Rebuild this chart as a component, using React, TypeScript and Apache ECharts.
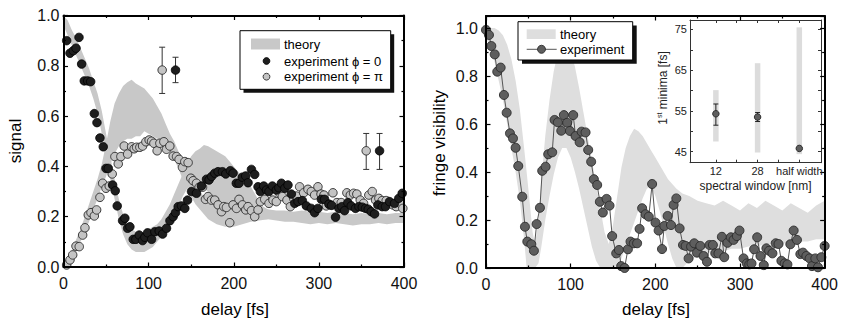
import React, { useEffect, useRef } from 'react';
import * as echarts from 'echarts';

const FONT = '"Liberation Sans", Arial, Helvetica, sans-serif';

// ---------- Left panel: signal vs delay ----------
const signalPhi0: number[][] = [
  [3.7,0.90],[7.6,0.85],[11.5,0.86],[14.7,0.87],[18.2,0.913],[21.3,0.807],[24.4,0.74],[28.4,0.74],[31.9,0.737],[36.2,0.61],
  [39.3,0.574],[42.8,0.513],[46.7,0.478],[49.9,0.392],[52.6,0.392],[57.7,0.326],[60.8,0.303],[63.1,0.243],[69.4,0.184],[72.1,0.194],
  [75.3,0.154],[78,0.16],[81.9,0.11],[85,0.11],[88.9,0.127],[92.9,0.105],[95.6,0.118],[98.8,0.136],[103.5,0.11],[107.3,0.14],
  [112.4,0.143],[116.4,0.131],[121,0.154],[125,0.184],[128.8,0.2],[131.6,0.216],[134.7,0.24],[138.6,0.243],[142.5,0.233],[145.7,0.266],
  [150.4,0.3],[156.2,0.293],[162,0.322],[168,0.349],[171,0.346],[174,0.36],[177.7,0.373],[181.6,0.379],[186.7,0.379],[190.6,0.37],
  [196,0.383],[199.2,0.373],[203,0.333],[206.2,0.333],[210,0.357],[214,0.362],[216.8,0.335],[220.8,0.388],[224.6,0.368],[228.5,0.319],
  [231.3,0.3],[235.2,0.322],[238.4,0.306],[241.4,0.3],[245.4,0.322],[250,0.306],[253,0.315],[256,0.333],[260,0.313],[263.7,0.326],
  [267.7,0.29],[271.6,0.253],[275.5,0.26],[280.6,0.264],[285.3,0.243],[291.1,0.233],[295,0.216],[298.9,0.233],[302.9,0.269],[306.7,0.269],
  [311.8,0.25],[315,0.245],[319.6,0.198],[323.5,0.233],[327,0.24],[330.2,0.224],[334,0.256],[338,0.243],[343,0.233],[347,0.24],
  [351,0.238],[354.8,0.233],[358,0.23],[361.5,0.22],[365.4,0.211],[369.3,0.247],[374.4,0.24],[378.3,0.24],[383,0.26],[388.9,0.253],
  [393.9,0.273],[397.9,0.293]
];
const signalPhiPi: number[][] = [
  [3.7,0.008],[7.6,0.028],[10.8,0.048],[14.7,0.083],[18.5,0.081],[22.5,0.127],[25.2,0.156],[29.1,0.207],[32.3,0.216],[36.2,0.203],
  [38.9,0.227],[42.8,0.277],[46,0.333],[49.9,0.313],[53.7,0.322],[57.2,0.37],[60.4,0.439],[64.3,0.41],[67.4,0.439],[71.3,0.481],
  [75.3,0.449],[80,0.478],[83,0.47],[85.9,0.476],[89.7,0.476],[92.9,0.481],[96.8,0.498],[100.6,0.505],[103.5,0.5],[106.2,0.492],
  [110,0.462],[113.2,0.492],[117.9,0.498],[121,0.468],[124.9,0.481],[128.8,0.441],[132.8,0.439],[135.8,0.428],[139.8,0.396],[142.5,0.419],
  [146.4,0.415],[149.6,0.353],[152.3,0.343],[156.2,0.333],[159.3,0.317],[163.3,0.317],[166.8,0.269],[169.8,0.28],[173.8,0.266],[177.7,0.266],
  [181.6,0.247],[185.6,0.22],[188.3,0.24],[191.4,0.237],[195.3,0.176],[199.2,0.247],[203.2,0.233],[206.2,0.269],[210.2,0.247],[214.1,0.227],
  [216.8,0.24],[220.8,0.224],[224.6,0.2],[228.5,0.227],[231.3,0.26],[236.4,0.269],[241.4,0.253],[246.1,0.266],[250,0.26],[254,0.293],
  [257.1,0.28],[262.5,0.266],[266.5,0.24],[270.4,0.273],[273.6,0.282],[277.4,0.319],[282.1,0.295],[287.2,0.309],[291.1,0.3],[295,0.286],
  [298.9,0.319],[302.5,0.29],[306,0.286],[308.7,0.243],[312.6,0.247],[316.5,0.295],[321.2,0.256],[326.3,0.256],[332.9,0.295],[336.9,0.286],
  [340.8,0.293],[344.6,0.29],[348.6,0.266],[352.5,0.253],[358.7,0.286],[362.7,0.3],[366.6,0.266],[370.5,0.273],[374.4,0.264],[379.1,0.264],
  [383,0.253],[386.9,0.247],[390.8,0.24],[395.5,0.253],[398.6,0.233]
];
// representative error bars: [delay, value, low, high]
const errPhi0: number[][] = [[131.6,0.783,0.733,0.834],[371.3,0.462,0.388,0.531]];
const errPhiPi: number[][] = [[115.9,0.783,0.69,0.874],[355.6,0.462,0.388,0.531]];
// theory bands: [delay, low, high]
const theoryPhi0: number[][] = [
  [0,0.96,1.0],[5,0.92,0.98],[10,0.88,0.94],[15,0.84,0.91],[20,0.8,0.87],[25,0.76,0.83],[30,0.72,0.79],[35,0.67,0.74],[40,0.61,0.69],
  [45,0.53,0.62],[50,0.43,0.53],[55,0.35,0.44],[60,0.27,0.35],[65,0.19,0.27],[70,0.13,0.21],[75,0.09,0.17],[80,0.07,0.15],[85,0.06,0.14],
  [90,0.06,0.14],[95,0.06,0.14],[100,0.07,0.15],[105,0.08,0.16],[110,0.1,0.17],[115,0.12,0.19],[120,0.14,0.22],[125,0.17,0.25],
  [130,0.2,0.29],[135,0.24,0.33],[140,0.28,0.37],[145,0.31,0.41],[150,0.32,0.44],[155,0.32,0.46],[160,0.32,0.47],[165,0.31,0.485],
  [170,0.3,0.48],[175,0.28,0.47],[180,0.26,0.46],[185,0.24,0.45],[190,0.22,0.44],[195,0.21,0.42],[200,0.2,0.4],[205,0.2,0.38],
  [210,0.19,0.36],[215,0.19,0.34],[220,0.19,0.32],[225,0.19,0.29],[230,0.19,0.26],[235,0.19,0.24],[240,0.19,0.23]
];
const theoryPhiPi: number[][] = [
  [0,0,0.015],[5,0.01,0.04],[10,0.03,0.07],[15,0.06,0.11],[20,0.1,0.15],[25,0.14,0.2],[30,0.18,0.25],[35,0.23,0.3],[40,0.27,0.35],
  [45,0.32,0.41],[50,0.36,0.49],[55,0.41,0.58],[60,0.45,0.65],[65,0.48,0.69],[70,0.5,0.72],[75,0.51,0.735],[80,0.51,0.745],
  [85,0.52,0.73],[90,0.52,0.72],[95,0.54,0.71],[100,0.53,0.69],[105,0.52,0.67],[110,0.51,0.64],[115,0.5,0.61],[120,0.48,0.57],
  [125,0.46,0.53],[130,0.43,0.5],[135,0.39,0.46],[140,0.35,0.42],[145,0.31,0.38],[150,0.28,0.35],[155,0.25,0.32],[160,0.23,0.3],
  [165,0.21,0.28],[170,0.19,0.27],[180,0.17,0.25],[190,0.16,0.24],[200,0.16,0.24],[210,0.17,0.24],[220,0.18,0.235],[230,0.185,0.235],
  [240,0.19,0.23],[250,0.185,0.225],[260,0.18,0.225],[270,0.18,0.22],[280,0.175,0.225],[290,0.17,0.22],[300,0.175,0.22],
  [310,0.17,0.215],[320,0.175,0.22],[330,0.17,0.215],[340,0.165,0.21],[350,0.17,0.215],[360,0.17,0.21],[370,0.175,0.215],
  [380,0.17,0.21],[390,0.175,0.215],[400,0.175,0.215]
];

// ---------- Right panel: fringe visibility vs delay ----------
const visibilityExp: number[][] = [
  [0,0.992],[3.5,0.971],[6.3,0.925],[10.3,0.89],[13.3,0.818],[17.3,0.835],[21.2,0.721],[24.4,0.647],[28.3,0.561],[31.9,0.54],
  [35,0.501],[38.1,0.425],[42.8,0.297],[46,0.172],[48.8,0.11],[53.5,0.099],[56.6,0.072],[59.8,0.183],[63.7,0.251],[66.4,0.405],
  [70.4,0.422],[73.5,0.474],[78.2,0.482],[81,0.617],[84.9,0.607],[88.9,0.572],[92,0.637],[95.9,0.605],[99.1,0.571],[103,0.637],
  [105.8,0.55],[110.6,0.524],[112.9,0.568],[117.6,0.565],[120.7,0.492],[124.2,0.443],[127.4,0.37],[131.3,0.346],[134.5,0.276],[138,0.231],
  [142.4,0.288],[145.9,0.26],[149,0.133],[153.8,0.061],[157,0.075],[159.7,0.008],[163.7,0.0],[167.6,0.078],[170.7,0.11],[174.6,0.103],
  [178.5,0.103],[181.4,0.163],[184.4,0.249],[188.4,0.224],[192.3,0.214],[196.2,0.35],[200.2,0.189],[203.9,0.156],[207.9,0.079],[210.6,0.175],
  [214.5,0.217],[218.5,0.179],[221.6,0.263],[224.8,0.29],[228.7,0.165],[232.7,0.096],[235.8,0.092],[239.3,0.04],[242.2,0.089],[246,0.103],
  [249.2,0.064],[253.1,0.092],[257,0.05],[261,0.026],[264,0.096],[268,0.096],[270.8,0.061],[274.6,0.061],[278.6,0.13],[281.4,0.045],
  [285.2,0.105],[289.2,0.128],[292.4,0.117],[296.3,0.133],[299.4,0.156],[304.2,0.04],[308.1,0.019],[311,0.015],[313.6,0.019],[316.7,0.078],
  [320.3,0.128],[324.2,0.05],[328.1,0.012],[331.2,0.082],[334.4,0.072],[338.3,0.061],[342.2,0.103],[345.5,0.1],[348.9,0.03],[352.8,0.019],
  [356,0.015],[359.5,0.099],[363.4,0.156],[367.3,0.117],[371.3,0.058],[374.4,0.064],[378.4,0.05],[382.3,0.04],[385,0.008],[389,0.04],
  [392.1,0.003],[396.1,0.045],[400,0.092]
];
const visibilityTheory: number[][] = [
  [0,0.96,1.0],[5,0.92,1.0],[10,0.86,1.0],[15,0.78,0.99],[20,0.7,0.97],[25,0.6,0.93],[30,0.5,0.87],[35,0.4,0.78],[40,0.28,0.66],
  [45,0.12,0.5],[48,0,0.4],[52,0,0.26],[55,0,0.15],[58,0,0.1],[62,0.02,0.2],[65,0.08,0.35],[70,0.2,0.55],[75,0.3,0.7],[80,0.39,0.82],
  [85,0.46,0.9],[90,0.5,0.93],[95,0.5,0.93],[100,0.46,0.9],[105,0.4,0.84],[110,0.33,0.75],[115,0.25,0.65],[120,0.17,0.55],[125,0.09,0.45],
  [130,0.03,0.35],[135,0,0.25],[140,0,0.15],[145,0,0.1],[150,0,0.18],[155,0.01,0.3],[160,0.04,0.42],[165,0.09,0.5],[170,0.14,0.55],
  [175,0.19,0.58],[180,0.24,0.57],[185,0.29,0.55],[190,0.33,0.52],[195,0.34,0.49],[200,0.3,0.46],[205,0.24,0.43],[210,0.17,0.4],
  [215,0.1,0.37],[220,0.04,0.35],[225,0,0.33],[232,0,0.31],[240,0.03,0.3],[250,0.05,0.28],[260,0.06,0.27],[270,0.07,0.26],[280,0.07,0.28],
  [290,0.08,0.26],[300,0.08,0.24],[310,0.09,0.27],[320,0.09,0.25],[330,0.1,0.28],[340,0.1,0.26],[350,0.1,0.24],[360,0.11,0.27],
  [370,0.11,0.25],[380,0.11,0.23],[390,0.12,0.26],[400,0.12,0.28]
];

// ---------- Inset: 1st minima vs spectral window ----------
const windowPos = [1, 2, 3];
const windowLabels = ['12', '28', 'half width'];
const minimaExp = [54.3, 53.5, 45.8];
const minimaErrLo = [51.5, 52.4, 45.8];
const minimaErrHi = [56.7, 54.6, 45.8];
const minimaTheoryLo = [47.5, 44.8, 44.4];
const minimaTheoryHi = [60.1, 66.7, 75.5];

const bandSeries = (axisIdx: number, rows: number[][], color: string) => ({
  type: 'custom',
  xAxisIndex: axisIdx,
  yAxisIndex: axisIdx,
  clip: true,
  silent: true,
  z: 1,
  data: rows,
  encode: { x: 0, y: [1, 2] },
  renderItem: (params: any, api: any) => {
    if (params.dataIndex !== 0) return null;
    const upper = rows.map((r) => api.coord([r[0], r[2]]));
    const lower = rows.slice().reverse().map((r) => api.coord([r[0], r[1]]));
    return { type: 'polygon', shape: { points: upper.concat(lower) }, style: { fill: color, stroke: null } };
  },
});

const errorSeries = (axisIdx: number, rows: number[][], cap: number, color: string) => ({
  type: 'custom',
  xAxisIndex: axisIdx,
  yAxisIndex: axisIdx,
  silent: true,
  z: 3,
  data: rows,
  encode: { x: 0, y: [1, 2, 3] },
  renderItem: (params: any, api: any) => {
    const t = api.value(0);
    const p1 = api.coord([t, api.value(3)]);
    const p2 = api.coord([t, api.value(2)]);
    const st = { stroke: color, lineWidth: 1 };
    return {
      type: 'group',
      children: [
        { type: 'line', shape: { x1: p1[0], y1: p1[1], x2: p2[0], y2: p2[1] }, style: st },
        { type: 'line', shape: { x1: p1[0] - cap, y1: p1[1], x2: p1[0] + cap, y2: p1[1] }, style: st },
        { type: 'line', shape: { x1: p2[0] - cap, y1: p2[1], x2: p2[0] + cap, y2: p2[1] }, style: st },
      ],
    };
  },
});

const mainX = (gridIndex: number, position: string, showLabel: boolean) => ({
  type: 'value', gridIndex, position, min: 0, max: 400, interval: 100, z: 4,
  axisLine: { show: true, onZero: false, lineStyle: { color: '#000', width: 2 } },
  axisTick: { show: true, inside: true, length: 4.5, lineStyle: { color: '#000', width: 1.2 } },
  minorTick: { show: true, splitNumber: 2, length: 2.5, lineStyle: { color: '#000', width: 1.2 } },
  axisLabel: { show: showLabel, margin: 8, color: '#111', fontSize: 16, fontFamily: FONT },
  splitLine: { show: false },
});
const mainY = (gridIndex: number, position: string, max: number, showLabel: boolean, margin: number) => ({
  type: 'value', gridIndex, position, min: 0, max, interval: 0.2, z: 4,
  axisLine: { show: true, onZero: false, lineStyle: { color: '#000', width: 2 } },
  axisTick: { show: true, inside: true, length: 4.5, lineStyle: { color: '#000', width: 1.2 } },
  minorTick: { show: true, splitNumber: 2, length: 2.5, lineStyle: { color: '#000', width: 1.2 } },
  axisLabel: { show: showLabel, margin, color: '#111', fontSize: 16, fontFamily: FONT, showMaxLabel: max <= 1,
    formatter: (v: number) => v.toFixed(1) },
  splitLine: { show: false },
});
const insetX = (position: string, showLabel: boolean) => ({
  type: 'value', gridIndex: 2, position, min: 0.38, max: 3.52, z: 4,
  axisLine: { show: true, onZero: false, lineStyle: { color: '#333', width: 1 } },
  axisTick: { show: true, inside: true, length: 3, customValues: [1, 1.5, 2, 2.5, 3], lineStyle: { color: '#333', width: 1 } },
  axisLabel: { show: showLabel, margin: 3, color: '#222', fontSize: 11, fontFamily: FONT, customValues: windowPos,
    formatter: (v: number) => windowLabels[Math.round(v) - 1] ?? '' },
  splitLine: { show: false },
});
const insetY = (position: string, showLabel: boolean) => ({
  type: 'value', gridIndex: 2, position, min: 42.3, max: 77.3, z: 4,
  axisLine: { show: true, onZero: false, lineStyle: { color: '#333', width: 1 } },
  axisTick: { show: true, inside: true, length: 3, customValues: [45, 50, 55, 60, 65, 70, 75], lineStyle: { color: '#333', width: 1 } },
  axisLabel: { show: showLabel, margin: 3, color: '#222', fontSize: 11, fontFamily: FONT, customValues: [45, 55, 65, 75] },
  splitLine: { show: false },
});

const txt = (text: string, x: number, y: number, size: number, extra: any = {}) => ({
  type: 'text', x, y, z: 101, rotation: extra.rotation || 0,
  style: {
    text, x: 0, y: 0, fill: extra.fill || '#000',
    font: `${size}px ${FONT}`,
    align: extra.align || 'left', textAlign: extra.align || 'left',
    verticalAlign: 'middle', textVerticalAlign: 'middle',
    rich: extra.rich,
  },
});

export default function App() {
  const ref = useRef<HTMLDivElement>(null);
  useEffect(() => {
    document.body.style.margin = '0';
    const chart = echarts.init(ref.current!, undefined, { renderer: 'svg' });
    const insetBars = windowPos.map((p, i) => [p, minimaTheoryLo[i], minimaTheoryHi[i]]);
    const insetErr = windowPos.map((p, i) => [p, minimaExp[i], minimaErrLo[i], minimaErrHi[i]]);
    const insetPts = windowPos.map((p, i) => [p, minimaExp[i]]);
    chart.setOption({
      animation: false,
      backgroundColor: '#fff',
      textStyle: { fontFamily: FONT },
      grid: [
        { left: 63.5, top: 15.5, width: 340.5, height: 251.5 },
        { left: 486, top: 16, width: 339, height: 252 },
        { left: 690, top: 20, width: 131, height: 142.7 },
      ],
      xAxis: [
        mainX(0, 'bottom', true), mainX(1, 'bottom', true), insetX('bottom', true),
        mainX(0, 'top', false), mainX(1, 'top', false), insetX('top', false),
      ],
      yAxis: [
        mainY(0, 'left', 1, true, 4), mainY(1, 'left', 1.05, true, 8), insetY('left', true),
        mainY(0, 'right', 1, false, 4), mainY(1, 'right', 1.05, false, 8), insetY('right', false),
      ],
      series: [
        bandSeries(0, theoryPhi0, '#c8c8c8'),
        bandSeries(0, theoryPhiPi, '#c8c8c8'),
        {
          type: 'scatter', xAxisIndex: 0, yAxisIndex: 0, z: 2, symbolSize: 8.5, data: signalPhiPi,
          itemStyle: { color: '#c4c4c4', borderColor: '#2a2a2a', borderWidth: 0.9, opacity: 1 },
        },
        {
          type: 'scatter', xAxisIndex: 0, yAxisIndex: 0, z: 2, symbolSize: 8.5, data: signalPhi0,
          itemStyle: { color: '#1e1e1e', borderColor: '#000', borderWidth: 0.8, opacity: 1 },
        },
        errorSeries(0, errPhiPi, 3, '#333'),
        errorSeries(0, errPhi0, 3, '#333'),
        {
          type: 'scatter', xAxisIndex: 0, yAxisIndex: 0, z: 3, symbolSize: 8.5, data: errPhiPi.map((r) => [r[0], r[1]]),
          itemStyle: { color: '#c4c4c4', borderColor: '#2a2a2a', borderWidth: 0.9, opacity: 1 },
        },
        {
          type: 'scatter', xAxisIndex: 0, yAxisIndex: 0, z: 3, symbolSize: 8.5, data: errPhi0.map((r) => [r[0], r[1]]),
          itemStyle: { color: '#1e1e1e', borderColor: '#000', borderWidth: 0.8, opacity: 1 },
        },
        bandSeries(1, visibilityTheory, '#dedede'),
        {
          type: 'line', xAxisIndex: 1, yAxisIndex: 1, z: 2, data: visibilityExp, symbol: 'circle', symbolSize: 9,
          showAllSymbol: true, lineStyle: { color: '#555', width: 1 },
          itemStyle: { color: '#5e5e5e', borderColor: '#2a2a2a', borderWidth: 0.9 },
        },
        {
          type: 'custom', xAxisIndex: 2, yAxisIndex: 2, z: 2, silent: true, data: insetBars,
          encode: { x: 0, y: [1, 2] },
          renderItem: (params: any, api: any) => {
            const a = api.coord([api.value(0), api.value(2)]);
            const b = api.coord([api.value(0), api.value(1)]);
            const w = 5.5;
            return { type: 'rect', shape: { x: a[0] - w / 2, y: a[1], width: w, height: b[1] - a[1] }, style: { fill: '#dcdcdc' } };
          },
        },
        errorSeries(2, insetErr, 2.5, '#222'),
        {
          type: 'scatter', xAxisIndex: 2, yAxisIndex: 2, z: 4, symbolSize: 6.5, data: insetPts,
          itemStyle: { color: '#5e5e5e', borderColor: '#222', borderWidth: 0.9, opacity: 1 },
        },
      ],
      graphic: {
        elements: [
          // axis titles
          txt('signal', 15, 141, 17, { rotation: Math.PI / 2, align: 'center' }),
          txt('delay [fs]', 235, 309, 17, { align: 'center' }),
          txt('fringe visibility', 439, 143, 17, { rotation: Math.PI / 2, align: 'center' }),
          txt('delay [fs]', 656, 309, 17, { align: 'center' }),
          txt('{a|1}{s|st}{a| minima [fs]}', 663, 88, 12, {
            rotation: Math.PI / 2, align: 'center', fill: '#222',
            rich: {
              a: { fontSize: 12, fontFamily: FONT, fill: '#222', lineHeight: 14 },
              s: { fontSize: 7, fontFamily: FONT, fill: '#222', verticalAlign: 'top', lineHeight: 14 },
            },
          }),
          txt('spectral window [nm]', 755.5, 186, 12, { align: 'center', fill: '#222' }),
          // left legend
          { type: 'rect', z: 100, shape: { x: 243.5, y: 34.2, width: 150.7, height: 58.6 }, style: { fill: '#111' } },
          { type: 'rect', z: 100, shape: { x: 240, y: 30.7, width: 150.7, height: 58.6 }, style: { fill: '#fff', stroke: '#000', lineWidth: 1 } },
          { type: 'rect', z: 101, shape: { x: 251, y: 38.5, width: 29, height: 11 }, style: { fill: '#c8c8c8' } },
          txt('theory', 284, 44.3, 13),
          { type: 'circle', z: 101, shape: { cx: 266.5, cy: 61, r: 3.4 }, style: { fill: '#1e1e1e', stroke: '#000', lineWidth: 0.8 } },
          txt('experiment \u03d5 = 0', 284, 61, 13),
          { type: 'circle', z: 101, shape: { cx: 266.5, cy: 76.7, r: 3.4 }, style: { fill: '#c4c4c4', stroke: '#2a2a2a', lineWidth: 0.9 } },
          txt('experiment \u03d5 = \u03c0', 284, 76.7, 13),
          // right legend
          { type: 'rect', z: 100, shape: { x: 522, y: 25.4, width: 114.7, height: 38.3 }, style: { fill: '#111' } },
          { type: 'rect', z: 100, shape: { x: 518, y: 21.7, width: 114.7, height: 38.3 }, style: { fill: '#fff', stroke: '#000', lineWidth: 1 } },
          { type: 'rect', z: 101, shape: { x: 526.7, y: 29.3, width: 29, height: 9.7 }, style: { fill: '#dedede' } },
          txt('theory', 560, 34.2, 13),
          { type: 'line', z: 101, shape: { x1: 526.7, y1: 49.3, x2: 556.7, y2: 49.3 }, style: { stroke: '#555', lineWidth: 1 } },
          { type: 'circle', z: 102, shape: { cx: 541.5, cy: 49.3, r: 4 }, style: { fill: '#5e5e5e', stroke: '#2a2a2a', lineWidth: 0.9 } },
          txt('experiment', 560, 49.3, 13),
        ],
      },
    });
    return () => chart.dispose();
  }, []);
  return <div ref={ref} style={{ width: 841, height: 321 }} />;
}
